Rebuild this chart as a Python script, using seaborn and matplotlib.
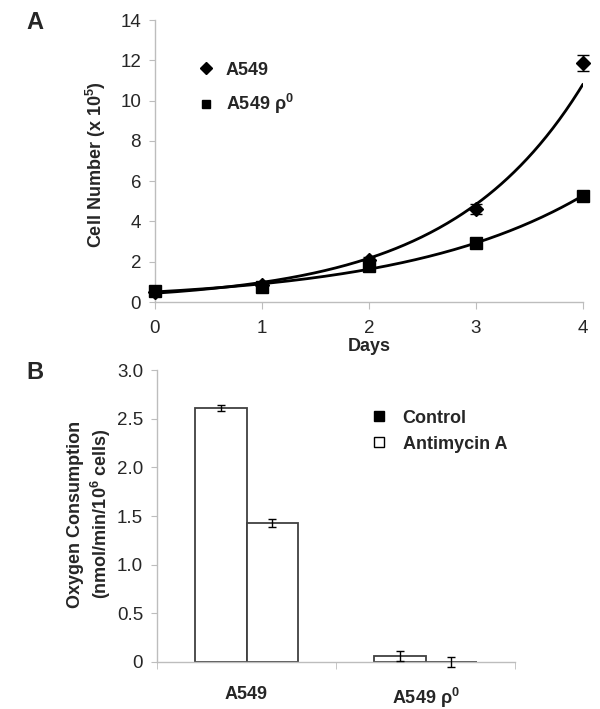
import numpy as np
import pandas as pd
import seaborn as sns
import matplotlib.pyplot as plt
from matplotlib.lines import Line2D

# Panel A: growth curves
days = [0, 1, 2, 3, 4]
a549_cells = [0.5, 0.85, 2.1, 4.6, 11.85]
a549_err = [0.08, 0.08, 0.12, 0.25, 0.4]
rho0_cells = [0.55, 0.75, 1.8, 2.95, 5.25]
rho0_err = [0.08, 0.08, 0.12, 0.12, 0.12]
a_yticks = [0, 2, 4, 6, 8, 10, 12, 14]

# Panel B: oxygen consumption
cell_lines = ['A549', 'A549 ρ$\\mathregular{^0}$']
treatments = ['Control', 'Antimycin A']
control_rate = [2.61, 0.06]
control_err = [0.026, 0.05]
antimycin_rate = [1.425, 0.0]
antimycin_err = [0.04, 0.05]
b_yticks = [0, 0.5, 1.0, 1.5, 2.0, 2.5, 3.0]
b_yticklabels = ['0', '0.5', '1.0', '1.5', '2.0', '2.5', '3.0']


def main():
    sns.set_style('white')
    plt.rcParams['font.family'] = ['Liberation Sans', 'DejaVu Sans']
    plt.rcParams['mathtext.fontset'] = 'custom'
    plt.rcParams['mathtext.rm'] = 'Liberation Sans:bold'

    spine_col = '#bdbdbd'
    fs = 13
    tfs = 13.5

    fig = plt.figure(figsize=(6, 7.09), dpi=100)
    axA = fig.add_axes([0.2583, 0.574, 0.7133, 0.3977])
    axB = fig.add_axes([0.2617, 0.0663, 0.5967, 0.4118])

    # ---- Panel A ----
    grid = np.linspace(0, 4, 200)
    fits = []
    for label, vals in [('A549', a549_cells), ('A549 rho0', rho0_cells)]:
        slope, icpt = np.polyfit(days, np.log(vals), 1)
        fits.append(pd.DataFrame({'Days': grid, 'Cells': np.exp(icpt + slope * grid), 'Line': label}))
    fit_df = pd.concat(fits, ignore_index=True)
    sns.lineplot(data=fit_df, x='Days', y='Cells', hue='Line', palette=['black', 'black'],
                 linewidth=2, legend=False, ax=axA)

    axA.errorbar(days, a549_cells, yerr=a549_err, fmt='D', color='black', markersize=7,
                 capsize=4, elinewidth=1, capthick=1, clip_on=False, zorder=5)
    axA.errorbar(days, rho0_cells, yerr=rho0_err, fmt='s', color='black', markersize=8,
                 capsize=4, elinewidth=1, capthick=1, clip_on=False, zorder=5)

    axA.set_xlim(0, 4)
    axA.set_ylim(0, 14)
    axA.set_xticks(days)
    axA.set_yticks(a_yticks)
    axA.set_xlabel('Days', fontsize=fs, fontweight='bold', labelpad=1)
    axA.set_ylabel('Cell Number (x 10$\\mathregular{^5}$)', fontsize=fs, fontweight='bold')
    axA.yaxis.set_label_coords(-0.11, 0.486)

    handlesA = [Line2D([], [], marker='D', color='black', linestyle='none', markersize=6),
                Line2D([], [], marker='s', color='black', linestyle='none', markersize=6)]
    axA.legend(handlesA, ['A549', 'A549 ρ$\\mathregular{^0}$'], loc='upper left',
               bbox_to_anchor=(0.06, 0.91), frameon=False, handlelength=1,
               handletextpad=0.6, labelspacing=0.75, prop={'size': fs, 'weight': 'bold'})

    # ---- Panel B ----
    b_df = pd.DataFrame({
        'Cell': cell_lines * 2,
        'Treatment': [treatments[0]] * 2 + [treatments[1]] * 2,
        'Rate': control_rate + antimycin_rate,
    })
    sns.barplot(data=b_df, x='Cell', y='Rate', hue='Treatment', palette=['white', 'white'],
                edgecolor='#404040', linewidth=1.3, width=0.575, errorbar=None,
                legend=False, ax=axB)
    for cont, errs in zip(axB.containers, [control_err, antimycin_err]):
        xs = [p.get_x() + p.get_width() / 2 for p in cont]
        hs = [p.get_height() for p in cont]
        axB.errorbar(xs, hs, yerr=errs, fmt='none', ecolor='black', elinewidth=1,
                     capsize=3, capthick=1, clip_on=False, zorder=5)

    axB.set_xlim(-0.5, 1.5)
    axB.set_ylim(0, 3.0)
    axB.set_yticks(b_yticks)
    axB.set_yticklabels(b_yticklabels)
    axB.set_xticks([0, 1])
    axB.set_xticklabels(cell_lines, fontweight='bold')
    axB.set_xticks([-0.5, 0.5, 1.5], minor=True)
    axB.tick_params(axis='x', which='major', length=0, pad=17, labelsize=fs)
    axB.tick_params(axis='x', which='minor', length=5, color=spine_col, direction='out', bottom=True)
    axB.set_xlabel('')
    axB.set_ylabel('Oxygen Consumption\n(nmol/min/10$\\mathregular{^6}$ cells)',
                   fontsize=fs, fontweight='bold', linespacing=1.3)
    axB.yaxis.set_label_coords(-0.122, 0.507)

    handlesB = [Line2D([], [], marker='s', color='black', markerfacecolor='black',
                       linestyle='none', markersize=7),
                Line2D([], [], marker='s', color='black', markerfacecolor='white',
                       markeredgewidth=1, linestyle='none', markersize=7)]
    axB.legend(handlesB, treatments, loc='upper left', bbox_to_anchor=(0.55, 0.92),
               frameon=False, handlelength=1, handletextpad=0.8, labelspacing=0.5,
               prop={'size': fs, 'weight': 'bold'})

    for ax in (axA, axB):
        sns.despine(ax=ax)
        for side in ('left', 'bottom'):
            ax.spines[side].set_color(spine_col)
            ax.spines[side].set_linewidth(1)
        ax.tick_params(axis='y', left=True, length=4, color=spine_col, direction='out',
                       labelsize=tfs, pad=6)
    axA.tick_params(axis='x', bottom=True, length=5, color=spine_col, direction='out',
                    labelsize=tfs, pad=8)

    fig.text(0.058, 0.968, 'A', fontsize=17, fontweight='bold', ha='center', va='center')
    fig.text(0.058, 0.474, 'B', fontsize=17, fontweight='bold', ha='center', va='center')

    fig.savefig('out.png', dpi=100)
    plt.close(fig)


if __name__ == '__main__':
    main()
